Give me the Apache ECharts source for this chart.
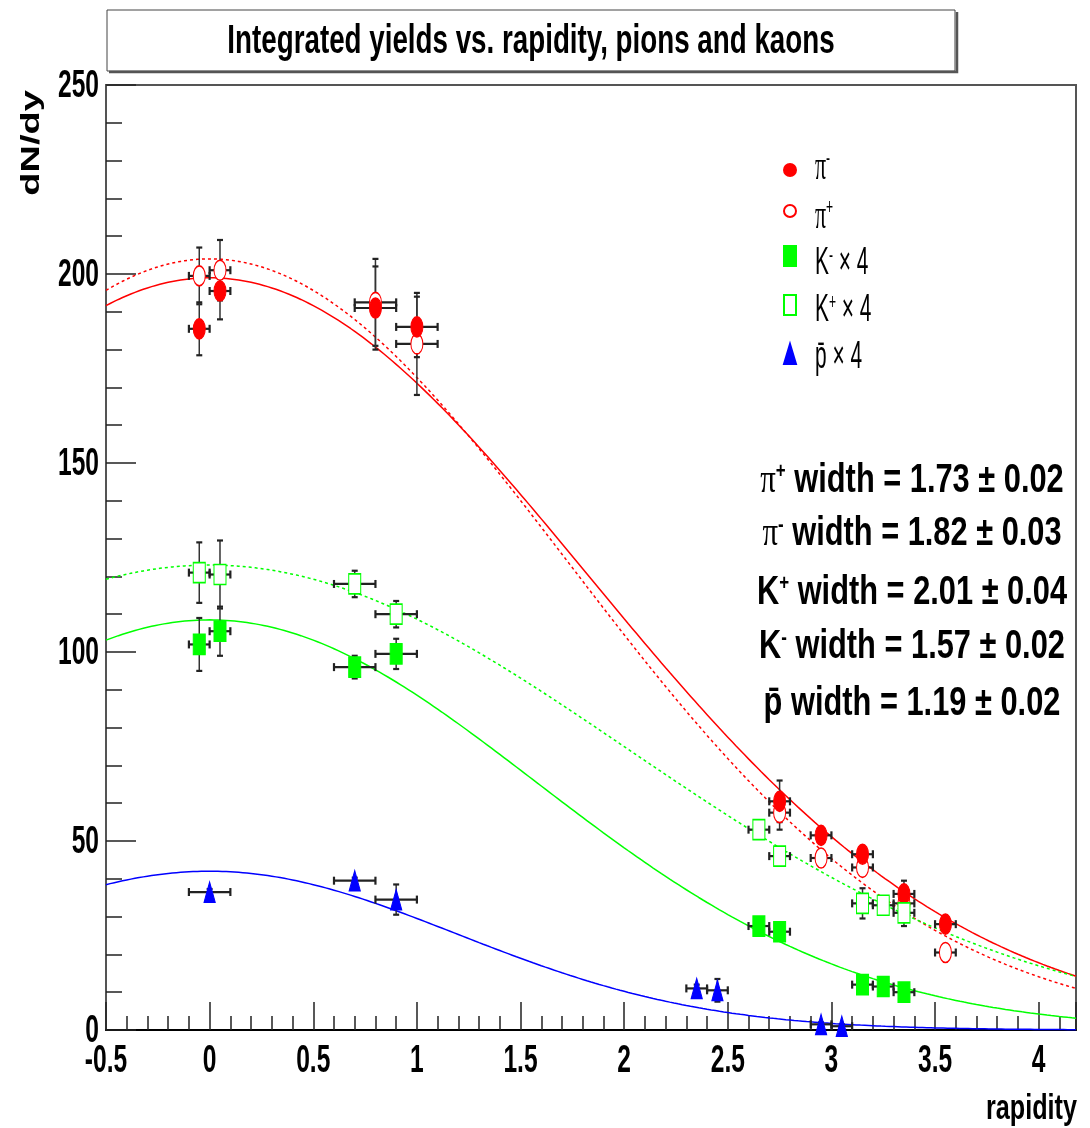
<!DOCTYPE html>
<html>
<head>
<meta charset="utf-8">
<script src="https://cdn.jsdelivr.net/npm/echarts@6/dist/echarts.min.js"></script>
<style>
  html, body { margin: 0; padding: 0; background: #ffffff; }
  #chart { width: 1090px; height: 1128px; }
</style>
</head>
<body>
<div id="chart"></div>
<script>
// ---- axes ----
const xMin = -0.5, xMax = 4.18, yMin = 0, yMax = 250;
const xTickLabels = [-0.5, 0, 0.5, 1, 1.5, 2, 2.5, 3, 3.5, 4];
const yTickLabels = [0, 50, 100, 150, 200, 250];

// ---- measured yields: rapidity, dN/dy and their errors ----
const piMinusRap      = [-0.05, 0.05, 0.8, 1.0, 2.75, 2.95, 3.15, 3.35, 3.55];
const piMinusYield    = [185.5, 195.5, 191, 186, 60.5, 51.5, 46.5, 36, 28];
const piMinusRapErr   = [0.05, 0.05, 0.1, 0.1, 0.05, 0.05, 0.05, 0.05, 0.05];
const piMinusYieldErr = [7, 7.5, 11, 8, 5.5, 1.5, 1.5, 3.5, 1.5];

const piPlusRap       = [-0.05, 0.05, 0.8, 1.0, 2.75, 2.95, 3.15, 3.35, 3.55];
const piPlusYield     = [199.5, 201, 192.5, 181.5, 57.5, 45.5, 43, 33.5, 20.5];
const piPlusRapErr    = [0.05, 0.05, 0.1, 0.1, 0.05, 0.05, 0.05, 0.05, 0.05];
const piPlusYieldErr  = [7.5, 8, 11.5, 13.5, 4.5, 1.5, 1.5, 2, 1.5];

const kMinusRap       = [-0.05, 0.05, 0.7, 0.9, 2.65, 2.75, 3.15, 3.25, 3.35];
const kMinusYield     = [102, 105.5, 96, 99.5, 27.5, 26, 12, 11.5, 10];
const kMinusRapErr    = [0.05, 0.05, 0.1, 0.1, 0.05, 0.05, 0.05, 0.05, 0.05];
const kMinusYieldErr  = [7, 6.5, 3, 4, 1.5, 1.5, 1, 1, 1];

const kPlusRap        = [-0.05, 0.05, 0.7, 0.9, 2.65, 2.75, 3.15, 3.25, 3.35];
const kPlusYield      = [121, 120.5, 118, 110, 53, 46, 33.5, 33, 31];
const kPlusRapErr     = [0.05, 0.05, 0.1, 0.1, 0.05, 0.05, 0.05, 0.05, 0.05];
const kPlusYieldErr   = [8, 9, 3.5, 3.5, 2, 2, 4, 2, 3.5];

const pbarRap         = [0.0, 0.7, 0.9, 2.35, 2.45, 2.95, 3.05];
const pbarYield       = [36.5, 39.5, 34.5, 11, 10.5, 1.5, 1];
const pbarRapErr      = [0.1, 0.1, 0.1, 0.05, 0.05, 0.05, 0.05];
const pbarYieldErr    = [0.8, 0.8, 4, 1, 3, 0.5, 0.5];

// ---- Gaussian fits: amplitude and fitted width ----
const fitAmplitude = [204, 199, 123, 108.5, 42];      // pi+, pi-, K+, K-, pbar
const fitWidth     = [1.73, 1.82, 2.01, 1.57, 1.19];
const fitWidthErr  = [0.02, 0.03, 0.04, 0.02, 0.02];

const RED = '#ff0000', GREEN = '#00ff00', BLUE = '#0000ff';
const SANS = '"Liberation Sans", Arial, sans-serif';
const SERIF = '"Liberation Serif", "DejaVu Serif", serif';
const ELLIPSE = 'path://M50 0 A50 50 0 1 1 50 100 A50 50 0 1 1 50 0 Z';

// drawing order: open markers first so the filled ones sit on top
const species = [
  { name: 'π⁺',     rap: piPlusRap, val: piPlusYield, rapErr: piPlusRapErr, valErr: piPlusYieldErr,
    symbol: ELLIPSE, size: [12, 20], fill: '#ffffff', stroke: RED },
  { name: 'π⁻',     rap: piMinusRap, val: piMinusYield, rapErr: piMinusRapErr, valErr: piMinusYieldErr,
    symbol: ELLIPSE, size: [12, 20], fill: RED, stroke: RED },
  { name: 'K⁺ × 4', rap: kPlusRap, val: kPlusYield, rapErr: kPlusRapErr, valErr: kPlusYieldErr,
    symbol: 'rect', size: [12, 20], fill: '#ffffff', stroke: GREEN },
  { name: 'K⁻ × 4', rap: kMinusRap, val: kMinusYield, rapErr: kMinusRapErr, valErr: kMinusYieldErr,
    symbol: 'rect', size: [12, 20], fill: GREEN, stroke: GREEN },
  { name: 'p̄ × 4',  rap: pbarRap, val: pbarYield, rapErr: pbarRapErr, valErr: pbarYieldErr,
    symbol: 'triangle', size: [11, 20], fill: BLUE, stroke: BLUE }
];
const legendOrder = ['π⁻', 'π⁺', 'K⁻ × 4', 'K⁺ × 4', 'p̄ × 4'];

// legend labels (narrow lettering), one per legend row
const legendLabel = [
  '{pi|π}{s|-}',
  '{pi|π}{s|+}',
  '{t|K}{s|-}{t| × 4}',
  '{t|K}{s|+}{t| × 4}',
  '{t|p̄ × 4}'
];
const legendRowY = [168, 217, 264, 311, 358];

// fit curves (pi+ dashed, pi- solid, K+ dashed, K- solid, pbar solid)
const fitStyles = [
  { color: RED, dash: [3, 3] }, { color: RED, dash: 'solid' },
  { color: GREEN, dash: [3, 3] }, { color: GREEN, dash: 'solid' },
  { color: BLUE, dash: 'solid' }
];
const curveRap = [];
for (let i = 0; i <= 234; i++) curveRap.push(+(xMin + i * 0.02).toFixed(2));
if (curveRap[curveRap.length - 1] < xMax) curveRap.push(xMax);

function gaussCurve(amp, width) {
  return curveRap.map(r => [r, amp * Math.exp(-r * r / (2 * width * width))]);
}

function errorBarItem(params, api) {
  const x = api.value(0), y = api.value(1), ex = api.value(2), ey = api.value(3);
  const c = api.coord([x, y]);
  const top = api.coord([x, y + ey])[1];
  const bot = api.coord([x, y - ey])[1];
  const left = api.coord([x - ex, y])[0];
  const right = api.coord([x + ex, y])[0];
  const thin = { stroke: '#333333', lineWidth: 1.5 };
  const thick = { stroke: '#222222', lineWidth: 2.2 };
  return {
    type: 'group',
    children: [
      { type: 'line', shape: { x1: c[0], y1: top, x2: c[0], y2: bot }, style: thin },
      { type: 'line', shape: { x1: c[0] - 3, y1: top, x2: c[0] + 3, y2: top }, style: thick },
      { type: 'line', shape: { x1: c[0] - 3, y1: bot, x2: c[0] + 3, y2: bot }, style: thick },
      { type: 'line', shape: { x1: left, y1: c[1], x2: right, y2: c[1] }, style: thick },
      { type: 'line', shape: { x1: left, y1: c[1] - 4, x2: left, y2: c[1] + 4 }, style: thick },
      { type: 'line', shape: { x1: right, y1: c[1] - 4, x2: right, y2: c[1] + 4 }, style: thick }
    ]
  };
}

// tick labels in condensed bold lettering, placed through the axis scales
const tickFont = { fontFamily: SANS, fontWeight: 'bold', fontSize: 39, fill: '#000' };
function yTickLabelItem(params, api) {
  const p = api.coord([api.value(0), api.value(1)]);
  return { type: 'text', x: p[0] - 7, y: p[1] + 1, scaleX: 0.63,
    style: Object.assign({ text: String(api.value(1)), align: 'right', verticalAlign: 'middle' }, tickFont) };
}
function xTickLabelItem(params, api) {
  const p = api.coord([api.value(0), api.value(1)]);
  return { type: 'text', x: p[0], y: p[1] + 12, scaleX: 0.63,
    style: Object.assign({ text: String(api.value(0)), align: 'center', verticalAlign: 'top' }, tickFont) };
}

const series = [];
fitAmplitude.forEach((amp, i) => {
  series.push({
    type: 'line', name: 'fit' + i, silent: true, showSymbol: false, z: 2,
    data: gaussCurve(amp, fitWidth[i]),
    lineStyle: { color: fitStyles[i].color, width: 1.5, type: fitStyles[i].dash }
  });
});
species.forEach(sp => {
  series.push({
    type: 'custom', name: sp.name + ' err', silent: true, z: 3,
    renderItem: errorBarItem,
    encode: { x: 0, y: 1 },
    data: sp.rap.map((r, i) => [r, sp.val[i], sp.rapErr[i], sp.valErr[i]])
  });
});
species.forEach(sp => {
  series.push({
    type: 'scatter', name: sp.name, z: 4,
    symbol: sp.symbol, symbolSize: sp.size,
    itemStyle: { color: sp.fill, borderColor: sp.stroke, borderWidth: 1.3, opacity: 1 },
    data: sp.rap.map((r, i) => [r, sp.val[i]])
  });
});
series.push({
  type: 'custom', name: 'y tick labels', silent: true, clip: false, z: 6,
  renderItem: yTickLabelItem, encode: { x: 0, y: 1 },
  data: yTickLabels.map(v => [xMin, v])
});
series.push({
  type: 'custom', name: 'x tick labels', silent: true, clip: false, z: 6,
  renderItem: xTickLabelItem, encode: { x: 0, y: 1 },
  data: xTickLabels.map(v => [v, yMin])
});

// width annotations, built from the fit widths
const annotationRows = [
  (w, e) => `{pi|π}{s|+}{b| width = ${w} ± ${e}}`,
  (w, e) => `{pi|π}{s|-}{b| width = ${w} ± ${e}}`,
  (w, e) => `{b|K}{s|+}{b| width = ${w} ± ${e}}`,
  (w, e) => `{b|K}{s|-}{b| width = ${w} ± ${e}}`,
  (w, e) => `{b|p̄ width = ${w} ± ${e}}`
];
const annotationY = [481, 534, 593, 647, 704];
const annotationRich = {
  b:  { fontFamily: SANS, fontWeight: 'bold', fontSize: 40, fill: '#000' },
  pi: { fontFamily: SERIF, fontWeight: 'normal', fontSize: 40, fill: '#000' },
  s:  { fontFamily: SANS, fontWeight: 'bold', fontSize: 22, fill: '#000', verticalAlign: 'top' }
};
const annotations = annotationRows.map((fmt, i) => ({
  type: 'text', x: 912, y: annotationY[i], scaleX: 0.77, z: 20,
  style: {
    text: fmt(fitWidth[i].toFixed(2), fitWidthErr[i].toFixed(2)),
    rich: annotationRich, align: 'center', verticalAlign: 'middle',
    fontFamily: SANS, fontWeight: 'bold', fontSize: 40, fill: '#000'
  }
}));

const legendRich = {
  t:  { fontFamily: SANS, fontSize: 38, fill: '#000' },
  pi: { fontFamily: SERIF, fontSize: 40, fill: '#000' },
  s:  { fontFamily: SANS, fontSize: 22, fill: '#000', verticalAlign: 'top' }
};
const legendLabels = legendLabel.map((txt, i) => ({
  type: 'text', x: 815, y: legendRowY[i], scaleX: 0.55, z: 20,
  style: { text: txt, rich: legendRich, align: 'left', verticalAlign: 'middle', fontFamily: SANS, fontSize: 38, fill: '#000' }
}));

const option = {
  backgroundColor: '#ffffff',
  animation: false,
  grid: { left: 106, right: 14, top: 85, bottom: 98, show: true, borderColor: '#555555', borderWidth: 2, backgroundColor: '#ffffff' },
  xAxis: [
    {
      type: 'value', min: xMin, max: xMax, interval: 0.5, position: 'bottom',
      axisLine: { show: true, onZero: false, lineStyle: { color: '#000', width: 2 } },
      axisTick: { show: true, inside: true, length: 28, lineStyle: { color: '#222', width: 1.5 } },
      splitLine: { show: false },
      axisLabel: { show: false }
    },
    {
      type: 'value', min: xMin, max: xMax, interval: 0.1, position: 'bottom',
      axisLine: { show: false },
      axisTick: { show: true, inside: true, length: 14, lineStyle: { color: '#222', width: 1.5 } },
      splitLine: { show: false },
      axisLabel: { show: false }
    }
  ],
  yAxis: {
    type: 'value', min: yMin, max: yMax, interval: 50,
    axisLine: { show: true, onZero: false, lineStyle: { color: '#555', width: 1.5 } },
    axisTick: { show: true, inside: true, length: 30, lineStyle: { color: '#222', width: 1.5 } },
    minorTick: { show: true, splitNumber: 5, length: 16, lineStyle: { color: '#222', width: 1.5 } },
    splitLine: { show: false },
    axisLabel: { show: false }
  },
  legend: {
    orient: 'vertical', left: 778, top: 158,
    itemWidth: 12, itemHeight: 20, itemGap: 27,
    data: legendOrder,
    formatter: () => '',
    textStyle: { fontSize: 10, lineHeight: 20 }
  },
  graphic: [
    // title pave with shadow
    { type: 'rect', shape: { x: 107, y: 10, width: 848, height: 61 }, style: { fill: '#fff', stroke: '#444', lineWidth: 1 }, z: 10 },
    { type: 'polyline', shape: { points: [[109, 72], [957, 72], [957, 12]] }, style: { fill: null, stroke: '#555', lineWidth: 2.5 }, z: 10 },
    { type: 'text', x: 531, y: 42, scaleX: 0.694, z: 11,
      style: { text: 'Integrated yields vs. rapidity, pions and kaons', fontFamily: SANS, fontWeight: 'bold', fontSize: 40, fill: '#000', align: 'center', verticalAlign: 'middle' } },
    // axis titles
    { type: 'text', x: 32, y: 143, rotation: Math.PI / 2, scaleY: 0.7, z: 11,
      style: { text: 'dN/dy', fontFamily: SANS, fontWeight: 'bold', fontSize: 38, fill: '#000', align: 'center', verticalAlign: 'middle' } },
    { type: 'text', x: 1077, y: 1109, scaleX: 0.72, z: 11,
      style: { text: 'rapidity', fontFamily: SANS, fontWeight: 'bold', fontSize: 35, fill: '#000', align: 'right', verticalAlign: 'middle' } }
  ].concat(annotations, legendLabels),
  series: series
};

const chart = echarts.init(document.getElementById('chart'), null, { renderer: 'canvas' });
chart.setOption(option);
</script>
</body>
</html>
